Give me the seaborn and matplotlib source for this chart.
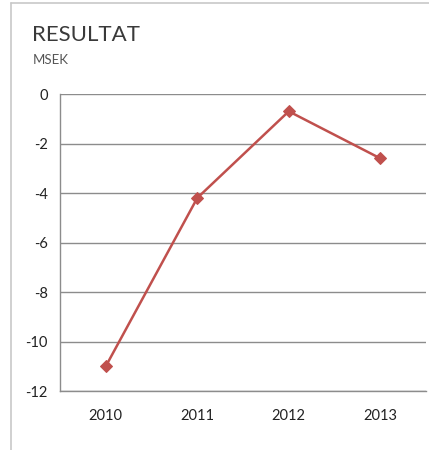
# -*- coding: utf-8 -*-

import pandas as pd
import matplotlib.pyplot as plt
import seaborn as sns
from matplotlib.lines import Line2D

# Data ==================================================================================

years = [2010, 2011, 2012, 2013]
resultat = [-11.0, -4.2, -0.7, -2.6]
y_ticks = [0, -2, -4, -6, -8, -10, -12]

df = pd.DataFrame({"Year": years, "Resultat": resultat})

# Plot ==================================================================================

sns.set_style("white")
plt.rcParams["font.family"] = ["Lato", "DejaVu Sans"]

fig = plt.figure(figsize=(4.29, 4.5), dpi=100)
ax = fig.add_axes([0.14, 0.1311, 0.853, 0.66])

red = "#C0504D"
sns.lineplot(data=df, x="Year", y="Resultat", ax=ax, color=red, linewidth=1.8,
             marker="D", markersize=6, markeredgecolor=red)

ax.set_xlim(2009.5, 2013.5)
ax.set_ylim(-12, 0)
ax.set_xticks(years)
ax.set_xticklabels([str(y) for y in years])
ax.set_yticks(y_ticks)
ax.set_yticklabels([str(t) for t in y_ticks])
ax.set_xlabel("")
ax.set_ylabel("")

ax.yaxis.grid(True, color="#8c8c8c", linewidth=1)
ax.xaxis.grid(False)
for side in ["top", "right"]:
    ax.spines[side].set_visible(False)
for side in ["left", "bottom"]:
    ax.spines[side].set_color("#8c8c8c")
    ax.spines[side].set_linewidth(1)

ax.tick_params(axis="both", which="both", direction="out", length=5, width=1,
               color="#8c8c8c", labelsize=10.5, labelcolor="#222222")
ax.tick_params(axis="x", pad=8)
ax.tick_params(axis="y", pad=4)

# Title and unit
fig.text(32 / 429, 1 - 35 / 450, "RESULTAT", fontsize=16, color="#3a3a3a",
         va="center", ha="left")
fig.text(33 / 429, 1 - 60 / 450, "MSEK", fontsize=9.5, color="#555555",
         va="center", ha="left")

# Frame lines (top and left)
fig.add_artist(Line2D([11 / 429, 1], [1 - 3 / 450, 1 - 3 / 450],
                      transform=fig.transFigure, color="#c8c8c8", linewidth=1.2))
fig.add_artist(Line2D([11 / 429, 11 / 429], [0, 1 - 3 / 450],
                      transform=fig.transFigure, color="#c8c8c8", linewidth=1.2))

plt.savefig("out.png", dpi=100)
